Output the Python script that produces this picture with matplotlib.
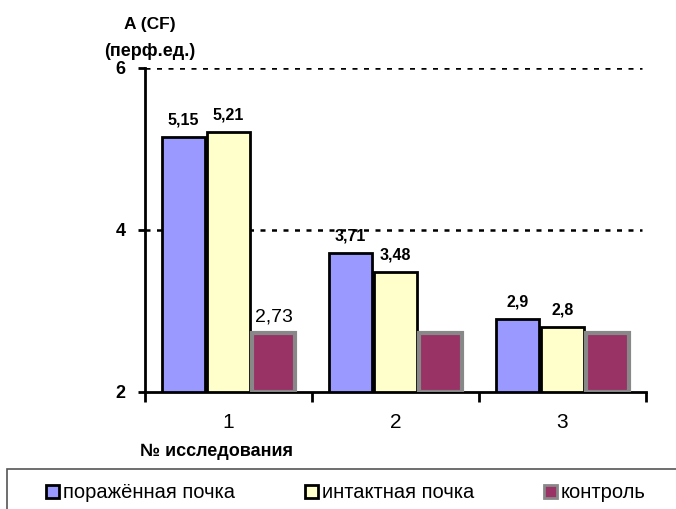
import matplotlib
matplotlib.use("Agg")
import matplotlib.pyplot as plt
from matplotlib.patches import Patch, Rectangle
import numpy as np

plt.rcParams['font.family'] = ['Liberation Sans', 'DejaVu Sans']

categories = ["1", "2", "3"]
series_names = ["поражённая почка", "интактная почка", "контроль"]
affected = [5.15, 3.71, 2.9]
intact = [5.21, 3.48, 2.8]
control = [2.73, 2.73, 2.73]
yticks = [2, 4, 6]

colors = ["#9999FF", "#FFFFCC", "#993366"]
edges = ["#000000", "#000000", "#888888"]

fig = plt.figure(figsize=(6.76, 5.09), dpi=100)
ax = fig.add_axes([145/676, 1-392/509, (646-145)/676, (392-68)/509])

x = np.arange(1, len(categories) + 1)
w = 0.26
offs = [-0.27, 0.0, 0.27]
series = [affected, intact, control]
for i, (vals, c, e) in enumerate(zip(series, colors, edges)):
    lw = 2.0 if i < 2 else 3.0
    ax.bar(x + offs[i], np.array(vals) - 2, bottom=2, width=w, color=c,
           edgecolor=e, linewidth=lw, zorder=3)

def fmt(v):
    return f"{v:g}".replace(".", ",")

for i in range(len(categories)):
    ax.annotate(fmt(affected[i]), (x[i] + offs[0], affected[i]),
                xytext=(0, 7), textcoords="offset points", ha="center",
                va="bottom", fontsize=11.5, fontweight="bold", zorder=5)
    ax.annotate(fmt(intact[i]), (x[i] + offs[1], intact[i]),
                xytext=(0, 7), textcoords="offset points", ha="center",
                va="bottom", fontsize=11.5, fontweight="bold", zorder=5)
ax.annotate(fmt(control[0]), (x[0] + offs[2], control[0]),
            xytext=(0, 5), textcoords="offset points", ha="center",
            va="bottom", fontsize=14, zorder=5)

ax.set_ylim(2, 6)
ax.set_xlim(0.5, 3.5)
for yv in [4, 6]:
    ax.axhline(yv, color="black", linestyle=(0, (2, 2.6)), linewidth=1.8,
               zorder=1, xmax=0.992)

ax.set_yticks(yticks)
ax.set_yticklabels([str(t) for t in yticks], fontsize=13, fontweight="bold")
ax.tick_params(axis="y", direction="out", length=5, width=2, pad=9)

ax.set_xticks([0.5, 1.5, 2.5, 3.5])
ax.set_xticklabels([])
ax.set_xticks(x, minor=True)
ax.set_xticklabels(categories, minor=True, fontsize=15)
ax.tick_params(axis="x", which="major", direction="out", length=7, width=2)
ax.tick_params(axis="x", which="minor", length=0, pad=15)

for s in ["top", "right"]:
    ax.spines[s].set_visible(False)
for s in ["left", "bottom"]:
    ax.spines[s].set_linewidth(2)

fig.text(150/676, 1-25/509, "A (CF)", ha="center", va="center",
         fontsize=12.5, fontweight="bold")
fig.text(150/676, 1-52/509, "(перф.ед.)", ha="center", va="center",
         fontsize=13, fontweight="bold")
fig.text(216/676, 1-452/509, "№ исследования", ha="center", va="center",
         fontsize=13, fontweight="bold")

fig.patches.append(Rectangle((7/676, -0.1), 1.0, 1-469/509+0.1,
                             transform=fig.transFigure, fill=False,
                             edgecolor="#555555", linewidth=1.2))

handles = [Patch(facecolor=c, edgecolor=e, linewidth=2) for c, e in zip(colors, edges)]
fig.legend(handles, series_names, loc="center left",
           bbox_to_anchor=(38/676, 1-493/509), ncol=3, frameon=False,
           fontsize=14.5, handlelength=0.65, handleheight=0.65,
           handletextpad=0.2, columnspacing=3.45, borderaxespad=0)

fig.savefig("out.png", dpi=100)
